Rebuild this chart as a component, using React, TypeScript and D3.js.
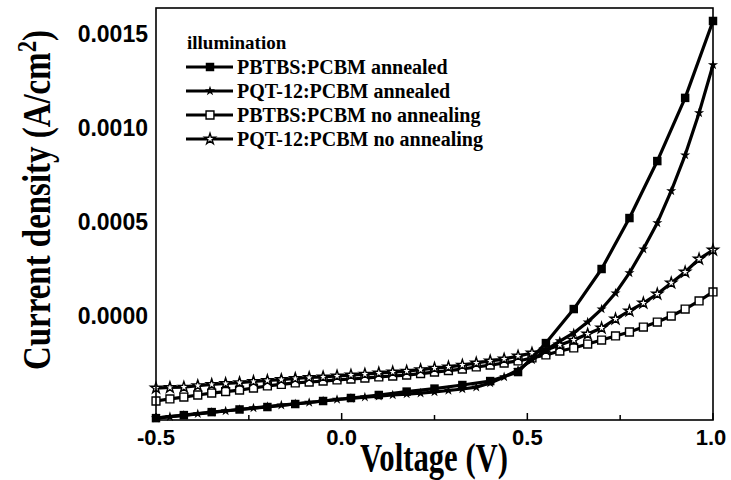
import React from "react";
import * as d3 from "d3";

// Voltage grids (V)
const voltsFine = [-0.5, -0.4625, -0.425, -0.3875, -0.35, -0.3125, -0.275, -0.2375, -0.2, -0.1625, -0.125, -0.0875, -0.05, -0.0125, 0.025, 0.0625, 0.1, 0.1375, 0.175, 0.2125, 0.25, 0.2875, 0.325, 0.3625, 0.4, 0.4375, 0.475, 0.5125, 0.55, 0.5875, 0.625, 0.6625, 0.7, 0.7375, 0.775, 0.8125, 0.85, 0.8875, 0.925, 0.9625, 1.0];
const voltsCoarse = [-0.5, -0.425, -0.35, -0.275, -0.2, -0.125, -0.05, 0.025, 0.1, 0.175, 0.25, 0.325, 0.4, 0.475, 0.55, 0.625, 0.7, 0.775, 0.85, 0.925, 1.0];

// Current density (A/cm^2)
const pbtbsAnnealed = [-0.000543, -0.000527, -0.000511, -0.000497, -0.000484, -0.000468, -0.000452, -0.000436, -0.00042, -0.000402, -0.000386, -0.000367, -0.000346, -0.000298, -0.000144, 0.000037, 0.00025, 0.000521, 0.000824, 0.00116, 0.001569];
const pqtAnnealed = [-0.000543, -0.000535, -0.000528, -0.00052, -0.000512, -0.000505, -0.000497, -0.000489, -0.000482, -0.000474, -0.000467, -0.00046, -0.000452, -0.000444, -0.000438, -0.000431, -0.000426, -0.00042, -0.000415, -0.00041, -0.000404, -0.000396, -0.000388, -0.000378, -0.000356, -0.000324, -0.000287, -0.000234, -0.000181, -0.000133, -0.00009, -0.000032, 0.000037, 0.000122, 0.000229, 0.000356, 0.000495, 0.000665, 0.000856, 0.00108, 0.001335];
const pbtbsNoAnneal = [-0.000452, -0.000441, -0.000431, -0.00042, -0.00041, -0.000402, -0.000394, -0.000383, -0.000372, -0.000364, -0.000356, -0.000351, -0.000346, -0.00034, -0.000335, -0.00033, -0.000324, -0.000319, -0.000314, -0.000306, -0.000298, -0.00029, -0.000282, -0.000271, -0.000261, -0.00025, -0.000239, -0.000223, -0.000207, -0.000186, -0.00017, -0.000149, -0.000128, -0.000106, -0.000085, -0.000059, -0.000032, 0.0, 0.000037, 0.00008, 0.000128];
const pqtNoAnneal = [-0.000383, -0.00038, -0.000378, -0.00037, -0.000364, -0.000359, -0.000354, -0.000348, -0.000343, -0.000338, -0.000332, -0.000327, -0.000324, -0.000319, -0.000314, -0.000309, -0.000303, -0.000298, -0.000293, -0.000285, -0.000277, -0.000271, -0.000261, -0.00025, -0.000239, -0.000229, -0.000213, -0.000197, -0.000181, -0.000154, -0.000128, -0.000096, -0.000064, -0.000016, 0.000027, 0.000069, 0.000117, 0.000176, 0.000234, 0.000303, 0.000351];

const xTicksMajor = [-0.5, 0.0, 0.5, 1.0];
const xTickLabels = ["-0.5", "0.0", "0.5", "1.0"];
const xTicksMinor = [-0.25, 0.25, 0.75];
const yTicks = [0.0, 0.0005, 0.001, 0.0015];
const yTickLabels = ["0.0000", "0.0005", "0.0010", "0.0015"];

const legendTitle = "illumination";
const legendLabels = [
  "PBTBS:PCBM annealed",
  "PQT-12:PCBM annealed",
  "PBTBS:PCBM no annealing",
  "PQT-12:PCBM no annealing",
];

const W = 731, H = 480;
const L = 156, R = 713, T = 8, B = 420;

export default function App() {
  const x = d3.scaleLinear().domain([-0.5, 1.0]).range([L, R]);
  const y = d3.scaleLinear().domain([-0.000553, 0.001638]).range([B, T]);

  const series = [
    { name: legendLabels[2], xs: voltsFine, ys: pbtbsNoAnneal, sym: d3.symbolSquare, size: 62, fill: "#fff" },
    { name: legendLabels[3], xs: voltsFine, ys: pqtNoAnneal, sym: d3.symbolStar, size: 36, fill: "#fff" },
    { name: legendLabels[1], xs: voltsFine, ys: pqtAnnealed, sym: d3.symbolStar, size: 32, fill: "#000" },
    { name: legendLabels[0], xs: voltsCoarse, ys: pbtbsAnnealed, sym: d3.symbolSquare, size: 72, fill: "#000" },
  ];
  const legendOrder = [3, 2, 0, 1];

  const line = d3.line<[number, number]>().x((d) => x(d[0])).y((d) => y(d[1]));

  const sans = "'Liberation Sans', Arial, sans-serif";
  const serif = "'Liberation Serif', 'Times New Roman', serif";

  return (
    <svg width={W} height={H} style={{ position: "absolute", left: 0, top: 0, background: "#fff" }}>
      <rect x={0} y={0} width={W} height={H} fill="#fff" />
      {series.map((s, i) => {
        const pts = s.xs.map((v, j) => [v, s.ys[j]] as [number, number]);
        const path = d3.symbol().type(s.sym).size(s.size)()!;
        return (
          <g key={i}>
            <path d={line(pts)!} fill="none" stroke="#000" strokeWidth={3.2} strokeLinejoin="round" />
            {pts.map((p, j) => (
              <path key={j} d={path} transform={`translate(${x(p[0])},${y(p[1])})`} fill={s.fill} stroke={s.fill === "#fff" ? "#000" : "none"} strokeWidth={1.4} />
            ))}
          </g>
        );
      })}
      {/* frame */}
      <rect x={L} y={T} width={R - L} height={B - T} fill="none" stroke="#000" strokeWidth={1.6} />
      {xTicksMajor.map((t, i) => (
        <line key={"M" + i} x1={x(t)} x2={x(t)} y1={B} y2={B - 7} stroke="#000" strokeWidth={1.5} />
      ))}
      {xTicksMinor.map((t, i) => (
        <line key={"m" + i} x1={x(t)} x2={x(t)} y1={B} y2={B - 5} stroke="#000" strokeWidth={1.5} />
      ))}
      {xTicksMajor.map((t, i) => (
        <text key={"xl" + i} x={x(t) - (i === 3 ? 2 : 0)} y={445} textAnchor="middle" fontFamily={sans} fontWeight="bold" fontSize={22}>
          {xTickLabels[i]}
        </text>
      ))}
      {yTicks.map((t, i) => (
        <text key={"yl" + i} x={148} y={y(t) + 8} textAnchor="end" fontFamily={sans} fontWeight="bold" fontSize={23}>
          {yTickLabels[i]}
        </text>
      ))}
      <text x={434} y={471} textAnchor="middle" fontFamily={serif} fontWeight="bold" fontSize={40} textLength={148} lengthAdjust="spacingAndGlyphs">
        Voltage (V)
      </text>
      <text transform={`translate(50,200) rotate(-90)`} textAnchor="middle" fontFamily={serif} fontWeight="bold" fontSize={39} textLength={340} lengthAdjust="spacingAndGlyphs">
        Current density (A/cm<tspan fontSize={27} dy={-14}>2</tspan><tspan dy={14}>)</tspan>
      </text>
      {/* legend */}
      <text x={187} y={49} fontFamily={serif} fontWeight="bold" fontSize={19}>
        {legendTitle}
      </text>
      {legendOrder.map((si, r) => {
        const s = series[si];
        const cy = 67 + r * 24;
        const path = d3.symbol().type(s.sym).size(s.size)()!;
        return (
          <g key={"lg" + r}>
            <line x1={186} x2={233} y1={cy} y2={cy} stroke="#000" strokeWidth={3.2} />
            <path d={path} transform={`translate(210,${cy})`} fill={s.fill} stroke={s.fill === "#fff" ? "#000" : "none"} strokeWidth={1.4} />
            <text x={237} y={cy + 7} fontFamily={serif} fontWeight="bold" fontSize={20}>
              {s.name}
            </text>
          </g>
        );
      })}
    </svg>
  );
}
